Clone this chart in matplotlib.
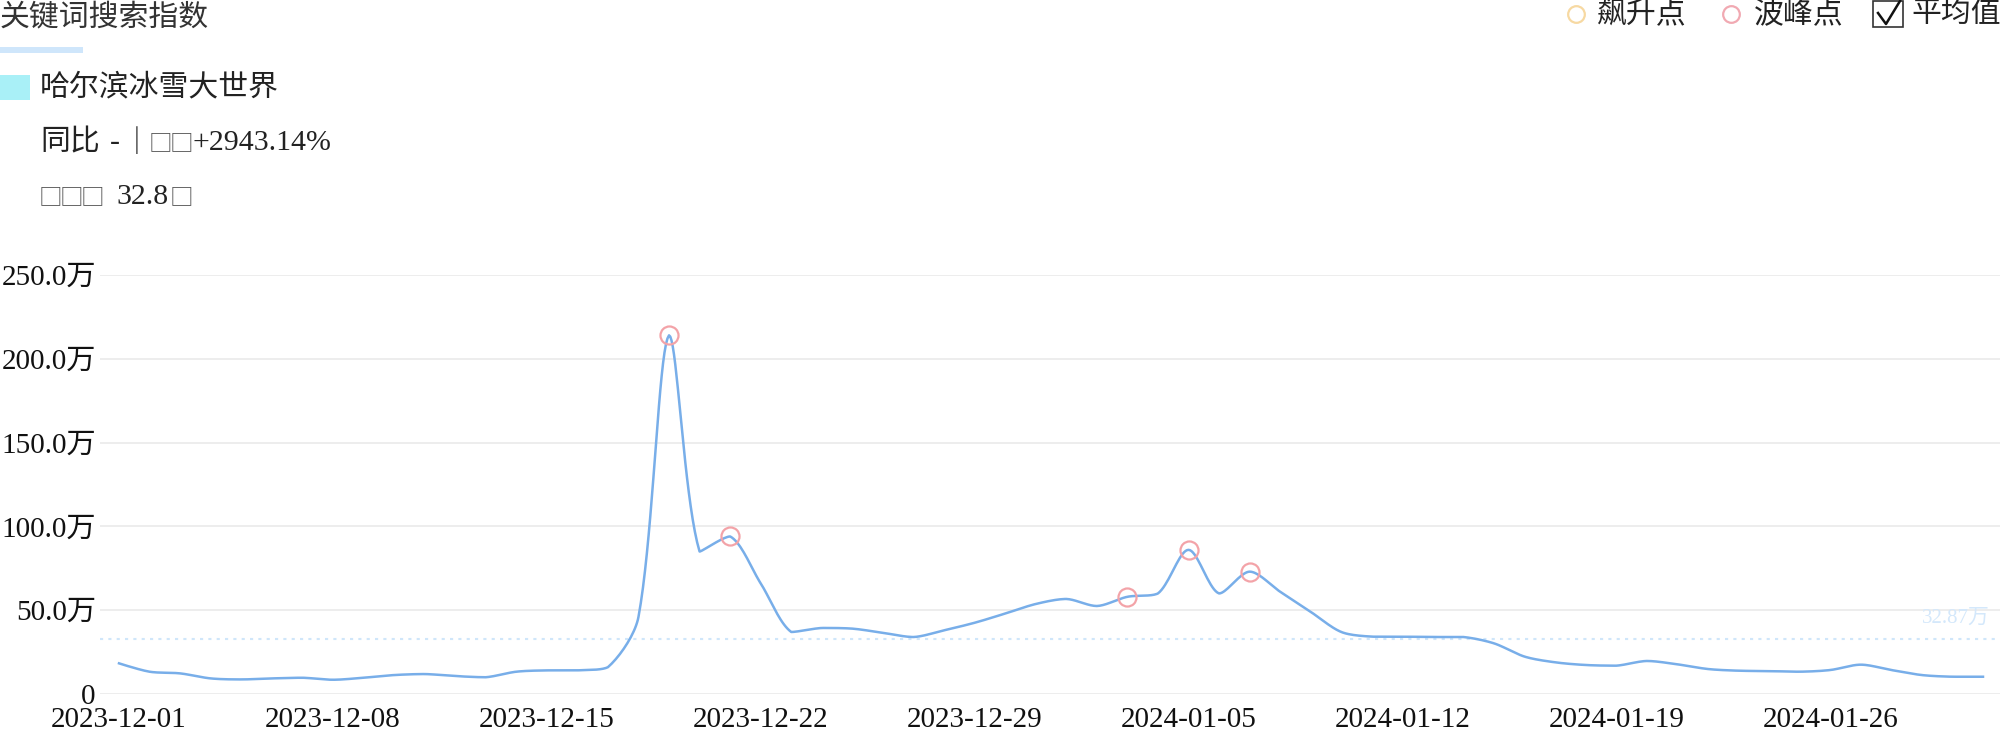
import numpy as np
import matplotlib
matplotlib.use("Agg")
import matplotlib.pyplot as plt
from matplotlib.patches import Rectangle
from matplotlib.lines import Line2D

plt.rcParams['font.family'] = ['Liberation Serif', 'Noto Sans CJK SC', 'DejaVu Sans']

# daily search index, unit: 万 (2023-12-01 .. 2024-01-31)
start_labels = ["2023-12-01", "2023-12-08", "2023-12-15", "2023-12-22", "2023-12-29",
                "2024-01-05", "2024-01-12", "2024-01-19", "2024-01-26"]
values = [18.3, 13.3, 12.3, 9.3, 8.7, 9.3, 9.7, 8.5, 9.7, 11.3,
          11.9, 10.7, 10.0, 13.3, 14.1, 14.1, 16.0, 46.0, 214.0, 85.0,
          94.0, 66.0, 37.0, 39.4, 39.0, 36.5, 34.0, 38.0, 42.5, 48.0,
          53.7, 56.7, 52.5, 58.0, 60.0, 86.0, 60.0, 73.0, 61.0, 49.0,
          37.0, 34.2, 34.2, 34.0, 34.0, 30.2, 22.3, 18.9, 17.3, 16.9,
          19.7, 17.7, 14.9, 13.9, 13.7, 13.3, 14.3, 17.5, 14.3, 11.3,
          10.3, 10.3]
peak_days = [18, 20, 33, 35, 37]
average = 32.87
y_ticks = [0, 50, 100, 150, 200, 250]
y_labels = ["0", "50.0万", "100.0万", "150.0万", "200.0万", "250.0万"]

W, H = 2000, 734


def smooth_line(xs, ys, sx, sy, smooth=0.3, n=20):
    # echarts-like bezier smoothing, done in pixel space
    px = np.asarray(xs, float) * sx
    py = np.asarray(ys, float) * sy
    m = len(px)
    cps = []
    for i in range(m):
        if i == 0 or i == m - 1:
            cps.append(((px[i], py[i]), (px[i], py[i])))
            continue
        vx = (px[i + 1] - px[i - 1]) * smooth
        vy = (py[i + 1] - py[i - 1]) * smooth
        d0 = np.hypot(px[i] - px[i - 1], py[i] - py[i - 1])
        d1 = np.hypot(px[i + 1] - px[i], py[i + 1] - py[i])
        r0 = d0 / (d0 + d1)
        r1 = d1 / (d0 + d1)
        cps.append(((px[i] - vx * r0, py[i] - vy * r0), (px[i] + vx * r1, py[i] + vy * r1)))
    t = np.linspace(0, 1, n)
    out_x, out_y = [], []
    for i in range(m - 1):
        p0 = (px[i], py[i])
        p3 = (px[i + 1], py[i + 1])
        c1 = cps[i][1]
        c2 = cps[i + 1][0]
        lo, hi = min(p0[1], p3[1]), max(p0[1], p3[1])
        c1 = (c1[0], min(max(c1[1], lo), hi))
        c2 = (c2[0], min(max(c2[1], lo), hi))
        bx = (1 - t) ** 3 * p0[0] + 3 * (1 - t) ** 2 * t * c1[0] + 3 * (1 - t) * t ** 2 * c2[0] + t ** 3 * p3[0]
        by = (1 - t) ** 3 * p0[1] + 3 * (1 - t) ** 2 * t * c1[1] + 3 * (1 - t) * t ** 2 * c2[1] + t ** 3 * p3[1]
        out_x.extend(bx if i == 0 else bx[1:])
        out_y.extend(by if i == 0 else by[1:])
    return np.array(out_x) / sx, np.array(out_y) / sy


def fx(px):
    return px / W


def fy(py):
    return 1 - py / H


fig = plt.figure(figsize=(20, 7.34), dpi=100)
ax = fig.add_axes([fx(100), fy(694), 1900 / W, 419 / H])

days = np.arange(len(values))
sx, sy = 30.56, 419 / 250
lx, ly = smooth_line(days, values, sx, sy)

for v in y_ticks:
    ax.axhline(v, color="#ececec", lw=1.3, zorder=0)
ax.axhline(average, color="#cfe6fa", lw=1.5, ls=(0, (1.5, 2.5)), zorder=1)
ax.text(1922, fy(618) * H, "32.87万", color="#d4e8fb", fontsize=15,
        ha="left", va="center", transform=None)

ax.plot(lx, ly, color="#78aee9", lw=1.8, zorder=3)
ax.plot(days[peak_days], [values[d] for d in peak_days], "o", ms=13,
        mfc="none", mec="#f3a3a8", mew=1.6, zorder=4)

ax.set_xlim(-19 / sx, 61 + 17 / sx)
ax.set_ylim(0, 250)
ax.set_yticks(y_ticks)
ax.set_yticklabels(y_labels)
ax.set_xticks(np.arange(0, 62, 7))
ax.set_xticklabels(start_labels)
ax.tick_params(axis="y", length=0, pad=3, labelsize=21, colors="#111111")
ax.tick_params(axis="x", length=0, pad=9.5, labelsize=21, colors="#111111")
for s in ax.spines.values():
    s.set_visible(False)

# header
txt = dict(fontsize=21.5, color="#222222", ha="left", va="center")
box = dict(fontsize=17, color="#555555", ha="center", va="center", family="Noto Sans CJK SC")
fig.text(0, fy(17), "关键词搜索指数", **{**txt, "color": "#333333"})
fig.add_artist(Rectangle((0, fy(53)), fx(83), 6 / H, transform=fig.transFigure,
                         color="#cfe6fb", lw=0))
fig.add_artist(Rectangle((0, fy(100)), fx(30), 25 / H, transform=fig.transFigure,
                         color="#a9f0f7", lw=0))
fig.text(fx(40), fy(88), "哈尔滨冰雪大世界", **txt)

fig.text(fx(40), fy(143), "同比", **txt)
fig.text(fx(110), fy(143), "-", **txt)
fig.text(fx(137), fy(143), "｜", **{**txt, "ha": "center", "family": "Noto Sans CJK SC",
                                      "fontsize": 20})
for cx in (160, 181):
    fig.text(fx(cx), fy(144), "□", **box)
fig.text(fx(192), fy(143), "+2943.14%", **txt)

for cx in (50, 71, 92):
    fig.text(fx(cx), fy(198), "□", **box)
fig.text(fx(116), fy(197), "32.8", **txt)
fig.text(fx(181), fy(198), "□", **box)

# legend
fig.add_artist(Line2D([fx(1576)], [fy(14)], marker="o", ms=12, mfc="none",
                      mec="#f7d9a2", mew=1.6, transform=fig.transFigure))
fig.text(fx(1597), fy(14), "飙升点", **txt)
fig.add_artist(Line2D([fx(1731)], [fy(14)], marker="o", ms=12, mfc="none",
                      mec="#f1a9b2", mew=1.6, transform=fig.transFigure))
fig.text(fx(1754), fy(14), "波峰点", **txt)
fig.add_artist(Rectangle((fx(1873), fy(27)), fx(30), 26 / H, transform=fig.transFigure,
                         fill=False, ec="#333333", lw=1.2))
fig.add_artist(Line2D([fx(1878), fx(1886), fx(1900)], [fy(13), fy(24), fy(1)],
                      color="#111111", lw=1.8, transform=fig.transFigure))
fig.text(fx(1911), fy(14), "平均值", **txt)

fig.savefig("out.png", dpi=100)
